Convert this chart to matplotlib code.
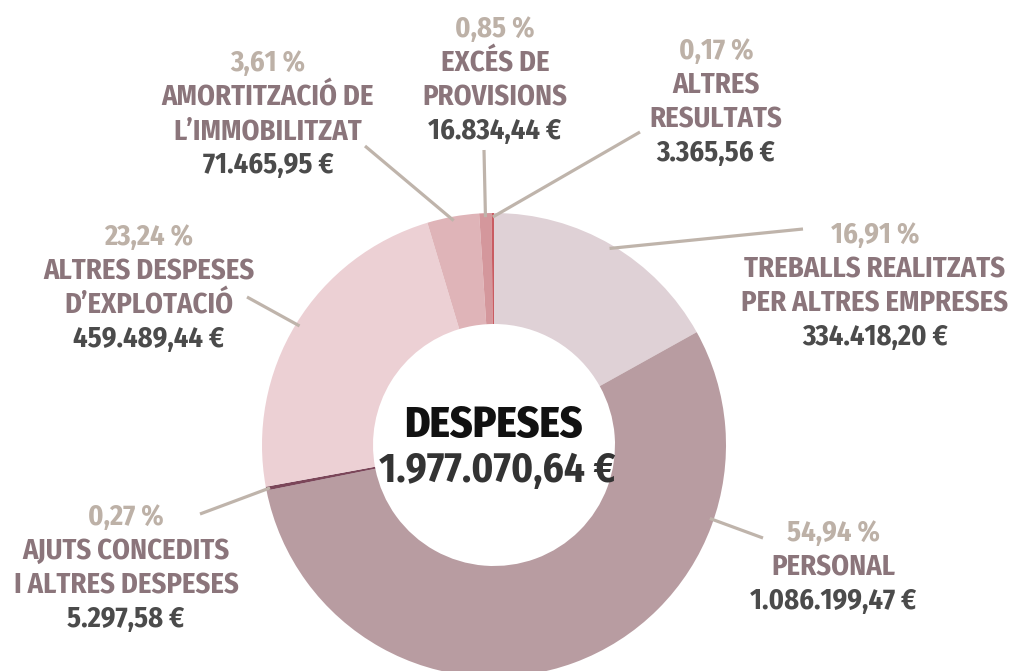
import numpy as np
import matplotlib.pyplot as plt
from matplotlib import font_manager

# data
categories = ["TREBALLS REALITZATS\nPER ALTRES EMPRESES", "PERSONAL",
              "AJUTS CONCEDITS\nI ALTRES DESPESES", "ALTRES DESPESES\nD\u2019EXPLOTACI\u00d3",
              "AMORTITZACI\u00d3 DE\nL\u2019IMMOBILITZAT", "EXC\u00c9S DE\nPROVISIONS",
              "ALTRES\nRESULTATS"]
values = [334418.20, 1086199.47, 5297.58, 459489.44, 71465.95, 16834.44, 3365.56]
colors = ["#dfd1d6", "#b89ca1", "#7b4659", "#ecd0d4", "#dfb4b8", "#d4979c", "#c95c62"]
center_title = "DESPESES"

# label layout: x centre and first baseline, in pixels from the top-left
label_x = [875, 833, 126, 149, 268, 495, 716]
label_y = [243, 541, 525, 245, 71, 37, 59]
# leader lines: outer end (px) and angle override on the ring (None = slice middle)
leader_out = [(803, 229), (763, 538), (200, 514), (247, 297), (365, 146), (484, 150), (640, 132)]
leader_ang = [None, 108.8, None, None, None, None, None]

W, H = 1016, 671
cx, cy, R, width = 494, 445, 232, 111

installed = {f.name for f in font_manager.fontManager.ttflist}
if "Fira Sans Condensed" in installed:
    fam, stretch, fs = "Fira Sans Condensed", "normal", 20.5
    fs_title, fs_total = 31, 29.5
else:
    fam, stretch, fs = "DejaVu Sans", "condensed", 18
    fs_title, fs_total = 26, 24
plt.rcParams['font.family'] = [fam, 'DejaVu Sans']


def eur(v):
    s = f"{v:,.2f}".replace(",", "X").replace(".", ",").replace("X", ".")
    return s + " \u20ac"


def pct(v, tot):
    return f"{100 * v / tot:.2f}".replace(".", ",") + " %"


total = sum(values)

fig = plt.figure(figsize=(W / 100, H / 100), dpi=100)
ax = fig.add_axes([0, 0, 1, 1])
ax.pie(values, colors=colors, startangle=90, counterclock=False,
       center=(cx, H - cy), radius=R, wedgeprops=dict(width=width, linewidth=0))
ax.set_xlim(0, W)
ax.set_ylim(0, H)
ax.set_aspect('equal')
ax.axis('off')

# leader lines
cum = np.cumsum([0] + values[:-1])
for i, v in enumerate(values):
    ang = 360 * (cum[i] + v / 2) / total if leader_ang[i] is None else leader_ang[i]
    r = R - 4
    x1 = cx + r * np.sin(np.radians(ang))
    y1 = cy - r * np.cos(np.radians(ang))
    x0, y0 = leader_out[i]
    ax.plot([x0, x1], [H - y0, H - y1], color="#bfb4ab", lw=2.3,
            solid_capstyle='butt', zorder=3)

# labels
step = 34
for i, v in enumerate(values):
    lines = [(pct(v, total), "#bdb1a7")]
    lines += [(t, "#8b757b") for t in categories[i].split("\n")]
    lines += [(eur(v), "#4b4b4b")]
    for k, (t, c) in enumerate(lines):
        ax.text(label_x[i], H - (label_y[i] + k * step), t, color=c, fontsize=fs,
                fontweight='bold', fontstretch=stretch, ha='center', va='baseline')

ax.text(cx - 1, H - 437, center_title, color="#111111", fontsize=fs_title,
        fontweight=800, fontstretch=stretch, ha='center', va='baseline')
ax.text(cx + 3, H - 482, eur(total), color="#333333", fontsize=fs_total,
        fontweight='bold', fontstretch=stretch, ha='center', va='baseline')

fig.savefig("out.png", dpi=100)
